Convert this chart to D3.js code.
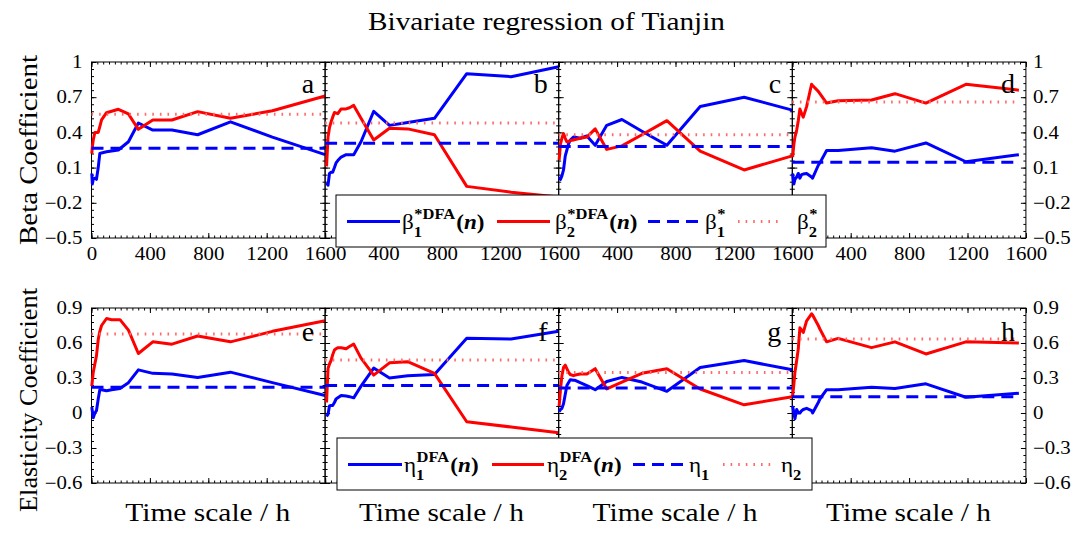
<!DOCTYPE html>
<html><head><meta charset="utf-8">
<script src="https://cdn.jsdelivr.net/npm/d3@7"></script>
<style>
body{margin:0;background:#fff;}
text{font-family:"Liberation Serif","Times New Roman",serif;fill:#000;}
</style>
</head><body>
<svg id="chart" width="1084" height="539"></svg>
<script>
// ---------- data ----------
const title = "Bivariate regression of Tianjin";
const xTicks = [0, 400, 800, 1200, 1600];
const betaTicks = [-0.5, -0.2, 0.1, 0.4, 0.7, 1];
const etaTicks = [-0.6, -0.3, 0, 0.3, 0.6, 0.9];
const panelLetters = ["a","b","c","d","e","f","g","h"];

const tA = [2, 6, 12, 23, 34, 46, 57, 69, 103, 184, 253, 321, 420, 551, 727, 952, 1239, 1600];
const betaA1 = [0.05, -0.04, 0.0, 0.01, 0.0, 0.1, 0.22, 0.225, 0.235, 0.25, 0.32, 0.48, 0.42, 0.42, 0.38, 0.49, 0.36, 0.21];
const betaA2 = [0.22, 0.28, 0.335, 0.40, 0.40, 0.40, 0.45, 0.506, 0.568, 0.597, 0.557, 0.426, 0.506, 0.506, 0.577, 0.52, 0.585, 0.71];

const tB = [10, 20, 30, 41, 52, 64, 75, 87, 110, 144, 167, 196, 246, 333, 441, 566, 749, 970, 1274, 1600];
const betaB1 = [-0.03, -0.05, 0.05, 0.06, 0.06, 0.10, 0.14, 0.16, 0.19, 0.21, 0.21, 0.21, 0.32, 0.58, 0.46, 0.485, 0.52, 0.90, 0.875, 0.96];
const betaB2 = [0.11, 0.36, 0.44, 0.49, 0.53, 0.57, 0.565, 0.56, 0.60, 0.60, 0.61, 0.63, 0.52, 0.335, 0.435, 0.43, 0.38, -0.06, -0.11, -0.15];

const tC = [3, 12, 22, 33, 45, 56, 67, 79, 101, 113, 147, 193, 250, 329, 433, 570, 741, 969, 1270, 1600];
const betaC1 = [0.02, 0.0, 0.03, 0.08, 0.20, 0.25, 0.30, 0.335, 0.36, 0.36, 0.35, 0.37, 0.29, 0.46, 0.51, 0.41, 0.29, 0.62, 0.70, 0.59];
const betaC2 = [0.165, 0.30, 0.35, 0.39, 0.35, 0.32, 0.32, 0.33, 0.335, 0.34, 0.35, 0.36, 0.43, 0.255, 0.285, 0.38, 0.50, 0.24, 0.08, 0.20];

const tD = [2, 11, 18, 30, 41, 52, 64, 75, 98, 132, 139, 178, 189, 235, 314, 543, 703, 915, 1189, 1552];
const betaD1 = [0.05, -0.04, 0.0, 0.02, 0.05, 0.01, 0.04, 0.045, 0.05, 0.02, 0.01, 0.12, 0.14, 0.245, 0.245, 0.27, 0.24, 0.31, 0.15, 0.21];
const betaD2 = [0.19, 0.30, 0.36, 0.42, 0.50, 0.60, 0.56, 0.53, 0.62, 0.81, 0.80, 0.75, 0.73, 0.65, 0.67, 0.676, 0.73, 0.65, 0.81, 0.76];

const tE = [2, 12, 23, 34, 46, 57, 69, 103, 138, 195, 253, 321, 420, 551, 727, 952, 1239, 1600];
const etaE1 = [0.05, -0.04, 0.0, 0.02, 0.12, 0.20, 0.20, 0.19, 0.20, 0.21, 0.26, 0.37, 0.34, 0.335, 0.305, 0.35, 0.26, 0.15];
const etaE2 = [0.23, 0.35, 0.42, 0.49, 0.63, 0.70, 0.75, 0.81, 0.80, 0.80, 0.71, 0.51, 0.61, 0.59, 0.66, 0.61, 0.70, 0.79];

const tF = [10, 20, 30, 41, 52, 64, 75, 87, 110, 144, 167, 196, 246, 333, 441, 566, 749, 970, 1274, 1600];
const etaF1 = [-0.03, -0.01, 0.06, 0.065, 0.065, 0.09, 0.12, 0.13, 0.15, 0.145, 0.14, 0.13, 0.23, 0.385, 0.30, 0.32, 0.33, 0.64, 0.634, 0.70];
const etaF2 = [0.09, 0.38, 0.42, 0.45, 0.50, 0.54, 0.55, 0.56, 0.56, 0.55, 0.57, 0.59, 0.47, 0.325, 0.43, 0.44, 0.34, -0.075, -0.12, -0.17];

const tG = [3, 12, 22, 33, 45, 56, 67, 79, 101, 113, 147, 193, 250, 329, 433, 570, 741, 969, 1270, 1600];
const etaG1 = [0.01, 0.03, 0.04, 0.08, 0.16, 0.235, 0.26, 0.285, 0.28, 0.28, 0.26, 0.235, 0.20, 0.27, 0.305, 0.265, 0.186, 0.39, 0.45, 0.37];
const etaG2 = [0.06, 0.20, 0.32, 0.39, 0.41, 0.38, 0.35, 0.33, 0.32, 0.325, 0.334, 0.334, 0.38, 0.206, 0.265, 0.34, 0.38, 0.206, 0.07, 0.14];

const tH = [2, 11, 18, 30, 41, 52, 64, 75, 98, 132, 139, 178, 189, 235, 314, 543, 703, 915, 1189, 1552];
const etaH1 = [0.06, 0.0, -0.05, 0.03, 0.0, 0.0, 0.02, 0.03, 0.04, 0.02, 0.0, 0.09, 0.12, 0.20, 0.20, 0.22, 0.21, 0.25, 0.135, 0.17];
const etaH2 = [0.14, 0.25, 0.35, 0.45, 0.55, 0.73, 0.71, 0.69, 0.79, 0.85, 0.84, 0.75, 0.72, 0.61, 0.64, 0.56, 0.61, 0.506, 0.61, 0.60];

const beta1Star = [0.265, 0.307, 0.28, 0.145];
const beta2Star = [0.555, 0.48, 0.38, 0.66];
const eta1Const = [0.22, 0.235, 0.214, 0.14];
const eta2Const = [0.677, 0.455, 0.348, 0.634];

// ---------- layout ----------
const svg = d3.select("#chart");
const FONT = '"Liberation Serif", "Times New Roman", serif';
const SX = 1.16; // horizontal stretch of the reference lettering
const BLUE = "#0000ff", RED = "#ff0000", PINK = "#ff6b6b";
const plotLeft = 91.5, colW = 233.6;
const rowTop = [62, 308], rowBot = [238, 483];

const panels = [
  {t:tA, s1:betaA1, s2:betaA2, c1:beta1Star[0], c2:beta2Star[0]},
  {t:tB, s1:betaB1, s2:betaB2, c1:beta1Star[1], c2:beta2Star[1]},
  {t:tC, s1:betaC1, s2:betaC2, c1:beta1Star[2], c2:beta2Star[2]},
  {t:tD, s1:betaD1, s2:betaD2, c1:beta1Star[3], c2:beta2Star[3]},
  {t:tE, s1:etaE1, s2:etaE2, c1:eta1Const[0], c2:eta2Const[0]},
  {t:tF, s1:etaF1, s2:etaF2, c1:eta1Const[1], c2:eta2Const[1]},
  {t:tG, s1:etaG1, s2:etaG2, c1:eta1Const[2], c2:eta2Const[2]},
  {t:tH, s1:etaH1, s2:etaH2, c1:eta1Const[3], c2:eta2Const[3]}
];

const fmt = v => (v < 0 ? "\u2212" : "") + String(Math.abs(+v.toFixed(2)));
const xMinor = d3.range(0, 1601, 40);

function stretchText(sel) {
  sel.each(function() {
    const x = +(this.getAttribute("x") || 0);
    this.setAttribute("transform", `matrix(${SX},0,0,1,${(1 - SX) * x},0)`);
  });
}

panels.forEach((p, i) => {
  const row = Math.floor(i / 4), col = i % 4;
  const x0 = plotLeft + col * colW, x1 = x0 + colW;
  const y0 = rowTop[row], y1 = rowBot[row];
  const x = d3.scaleLinear().domain([0, 1600]).range([x0, x1]);
  const dom = row === 0 ? [-0.5, 1] : [-0.6, 0.9];
  const majors = row === 0 ? betaTicks : etaTicks;
  const y = d3.scaleLinear().domain(dom).range([y1, y0]);
  const yMinor = d3.range(0, 26).map(k => dom[0] + k * 0.06).filter(v => v <= dom[1] + 1e-9);

  const g = svg.append("g");
  const styleAxis = sel => {
    sel.attr("font-family", FONT).attr("font-size", 18);
    sel.select(".domain").remove();
    sel.selectAll("line").attr("stroke", "#000").attr("stroke-width", 1);
    sel.selectAll("text").attr("font-size", 18).style("font-family", FONT).call(stretchText);
  };
  // minor ticks
  g.append("g").attr("transform", `translate(${x0},0)`).call(d3.axisLeft(y).tickValues(yMinor).tickSize(-2.5).tickFormat("")).call(styleAxis);
  g.append("g").attr("transform", `translate(${x1},0)`).call(d3.axisRight(y).tickValues(yMinor).tickSize(-2.5).tickFormat("")).call(styleAxis);
  g.append("g").attr("transform", `translate(0,${y0})`).call(d3.axisTop(x).tickValues(xMinor).tickSize(-2.5).tickFormat("")).call(styleAxis);
  g.append("g").attr("transform", `translate(0,${y1})`).call(d3.axisBottom(x).tickValues(xMinor).tickSize(-2.5).tickFormat("")).call(styleAxis);
  // major ticks
  g.append("g").attr("transform", `translate(${x0},0)`)
    .call(d3.axisLeft(y).tickValues(majors).tickSize(-5).tickPadding(9).tickFormat(col === 0 ? fmt : ""))
    .call(styleAxis);
  g.append("g").attr("transform", `translate(${x1},0)`)
    .call(d3.axisRight(y).tickValues(majors).tickSize(-5).tickPadding(7).tickFormat(col === 3 ? fmt : ""))
    .call(styleAxis);
  g.append("g").attr("transform", `translate(0,${y0})`)
    .call(d3.axisTop(x).tickValues(xTicks).tickSize(-5).tickFormat(""))
    .call(styleAxis);
  const xLabVals = row === 0 ? (col === 0 ? xTicks : xTicks.slice(1)) : [];
  g.append("g").attr("transform", `translate(0,${y1})`)
    .call(d3.axisBottom(x).tickValues(xTicks).tickSize(-5).tickPadding(9)
      .tickFormat(d => xLabVals.includes(d) ? String(d) : ""))
    .call(styleAxis);

  // frame
  g.append("rect").attr("x", x0).attr("y", y0).attr("width", x1 - x0).attr("height", y1 - y0)
    .attr("fill", "none").attr("stroke", "#000").attr("stroke-width", 1);

  const line = d3.line().x(d => x(d[0])).y(d => y(d[1]));
  const d1 = p.t.map((t, k) => [t, p.s1[k]]);
  const d2 = p.t.map((t, k) => [t, p.s2[k]]);
  const tEnd = p.t[p.t.length - 1];
  g.append("path").attr("d", line(d1)).attr("fill", "none").attr("stroke", BLUE).attr("stroke-width", 3).attr("stroke-linejoin", "round");
  g.append("path").attr("d", line(d2)).attr("fill", "none").attr("stroke", RED).attr("stroke-width", 3).attr("stroke-linejoin", "round");
  g.append("path").attr("d", line([[0, p.c1], [tEnd, p.c1]])).attr("fill", "none").attr("stroke", BLUE).attr("stroke-width", 3).attr("stroke-dasharray", "12,7");
  g.append("path").attr("d", line([[0, p.c2], [tEnd, p.c2]])).attr("fill", "none").attr("stroke", PINK).attr("stroke-width", 3).attr("stroke-dasharray", "1.6,6");

  g.append("text").attr("x", x1 - 11).attr("y", y0 + (row === 0 ? 31 : 33)).attr("text-anchor", "end")
    .attr("font-size", 28).text(panelLetters[i]);
});

// titles (stretched to the reference's widths)
svg.append("text").attr("x", 546.5).attr("y", 30).attr("text-anchor", "middle").attr("font-size", 26)
  .attr("textLength", 357).attr("lengthAdjust", "spacingAndGlyphs").text(title);
svg.append("text").attr("transform", "translate(37,150) rotate(-90)").attr("text-anchor", "middle").attr("font-size", 26)
  .attr("textLength", 190).attr("lengthAdjust", "spacingAndGlyphs").text("Beta Coefficient");
svg.append("text").attr("transform", "translate(37,400) rotate(-90)").attr("text-anchor", "middle").attr("font-size", 26)
  .attr("textLength", 224).attr("lengthAdjust", "spacingAndGlyphs").text("Elasticity Coefficient");
for (let c = 0; c < 4; c++) {
  svg.append("text").attr("x", plotLeft + c * colW + colW / 2 - 0.5).attr("y", 521).attr("text-anchor", "middle")
    .attr("font-size", 26).attr("textLength", 165).attr("lengthAdjust", "spacingAndGlyphs").text("Time scale / h");
}

// ---------- legends ----------
function symLabel(g, x, by, base, sub, sup, withN) {
  const lg = g.append("g").attr("transform", `translate(${x},${by}) scale(1.1,1)`);
  const t1 = lg.append("text").attr("x", 0).attr("y", 0).attr("font-size", 21).text(base);
  const w1 = t1.node().getComputedTextLength();
  const ts = lg.append("text").attr("x", w1).attr("y", 8).attr("font-size", 15).attr("font-weight", "bold").text(sub);
  let wEnd = w1 + ts.node().getComputedTextLength();
  if (sup) {
    const tp = lg.append("text").attr("x", w1 + 0.5).attr("y", -10).attr("font-size", 15).attr("font-weight", "bold").text(sup);
    wEnd = Math.max(wEnd, w1 + 0.5 + tp.node().getComputedTextLength());
  }
  if (withN) {
    const tn = lg.append("text").attr("x", wEnd + 1).attr("y", 0).attr("font-size", 21).attr("font-weight", "bold");
    tn.append("tspan").text("(");
    tn.append("tspan").attr("font-style", "italic").text("n");
    tn.append("tspan").text(")");
  }
}

function legend(box, lineY, items, sym) {
  const g = svg.append("g");
  g.append("rect").attr("x", box[0]).attr("y", box[1]).attr("width", box[2] - box[0]).attr("height", box[3] - box[1])
    .attr("fill", "#fff").attr("stroke", "#000").attr("stroke-width", 1);
  items.forEach(it => {
    g.append("line").attr("x1", it.l[0]).attr("x2", it.l[1]).attr("y1", lineY).attr("y2", lineY)
      .attr("stroke", it.color).attr("stroke-width", 3).attr("stroke-dasharray", it.dash || null);
    symLabel(g, it.tx, lineY + 7, sym, it.sub, it.sup, it.n);
  });
}

legend([336, 195, 826, 247], 221.5, [
  {l:[347, 400], color:BLUE, tx:402, sub:"1", sup:"*DFA", n:true},
  {l:[497, 550], color:RED, tx:555, sub:"2", sup:"*DFA", n:true},
  {l:[648, 700], color:BLUE, dash:"12,7", tx:705, sub:"1", sup:"*", n:false},
  {l:[738, 780], color:PINK, dash:"1.6,6", tx:797, sub:"2", sup:"*", n:false}
], "\u03B2");

legend([337, 438, 812, 490], 464.5, [
  {l:[348, 402], color:BLUE, tx:404, sub:"1", sup:"DFA", n:true},
  {l:[492, 544], color:RED, tx:547, sub:"2", sup:"DFA", n:true},
  {l:[633, 687], color:BLUE, dash:"12,7", tx:689, sub:"1", sup:null, n:false},
  {l:[723, 775], color:PINK, dash:"1.6,6", tx:781, sub:"2", sup:null, n:false}
], "\u03B7");
</script>
</body></html>
